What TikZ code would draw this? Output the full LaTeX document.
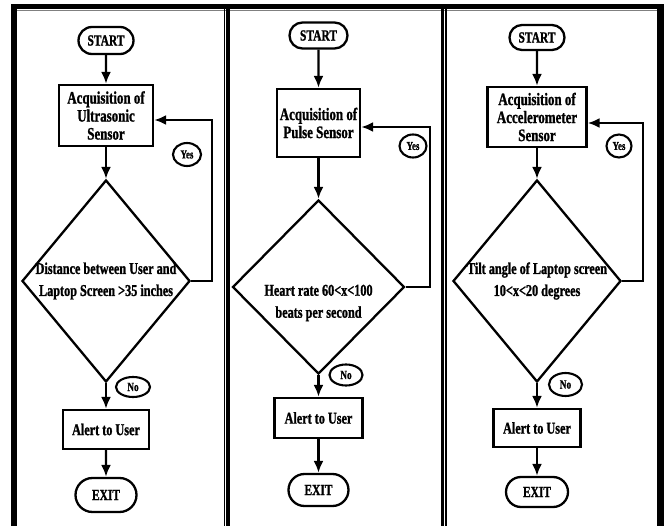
\documentclass[tikz,border=0pt]{standalone}
\usepackage{fontspec}
\usetikzlibrary{shapes.geometric,shapes.misc,arrows.meta}
\newfontfamily\ff{Liberation Serif}[FakeStretch=0.74,FakeBold=1.2]
\tikzset{
  x=1pt,y=-1pt,
  base/.style={draw=black,line width=2.3pt,inner sep=0pt,align=center,font=\ff\bfseries},
  term/.style={base,rounded rectangle},
  proc/.style={base,rectangle},
  dec/.style={base,diamond},
  oval/.style={base,ellipse,line width=2.1pt},
  dtext/.style={inner sep=0pt,align=center,font=\ff\bfseries\fontsize{16.5}{22}\selectfont},
  arr/.style={line width=2.3pt,-{Latex[length=12pt,width=10pt]}},
}
\begin{document}
\begin{tikzpicture}
\useasboundingbox (0,0) rectangle (664,526);
% frame
\fill[black] (11,4) rectangle (664,9.5);
\fill[black] (11,4) rectangle (17,526);
\fill[black] (657,4) rectangle (664,526);
\draw[gray,line width=1pt] (17,10.5) -- (657,10.5);
\fill[black] (223.5,9.5) rectangle (225,526);
\fill[black] (226.2,9.5) rectangle (230,526);
\fill[black] (441,9.5) rectangle (444,526);
\fill[black] (445,9.5) rectangle (446.7,526);

% ---------- panel 1
\node[term,minimum width=55,minimum height=27,font=\ff\bfseries\fontsize{15.5}{15}\selectfont] (start1) at (106,40.5) {START};
\node[proc,minimum width=94,minimum height=61,font=\ff\bfseries\fontsize{17.5}{18}\selectfont] (box1) at (106,115.5) {Acquisition of\\Ultrasonic\\Sensor};
\node[dec,minimum width=168,minimum height=202] (dia1) at (106,281) {};
\node[dtext] (t1) at (dia1.center) {Distance between User and\\Laptop Screen >35 inches};
\node[oval,minimum width=28,minimum height=23,font=\ff\bfseries\fontsize{12}{12}\selectfont] (yes1) at (187,154.5) {Yes};
\node[oval,minimum width=34,minimum height=20,font=\ff\bfseries\fontsize{12.5}{12}\selectfont] (no1) at (133,387) {No};
\node[proc,minimum width=86,minimum height=39,font=\ff\bfseries\fontsize{16.5}{16}\selectfont] (alert1) at (106,429.5) {Alert to User};
\node[term,minimum width=61,minimum height=34,font=\ff\bfseries\fontsize{15.5}{15}\selectfont] (exit1) at (106,495) {EXIT};
\coordinate (r1) at (212,120);
\draw[arr] (start1) -- (box1);
\draw[arr] (box1) -- (dia1);
\draw[arr] (dia1) -- (alert1);
\draw[arr] (alert1) -- (exit1);
\draw[arr] (dia1.east) -| (r1) -- (box1.east |- r1);

% ---------- panel 2
\node[term,minimum width=58,minimum height=26,font=\ff\bfseries\fontsize{15.5}{15}\selectfont] (start2) at (318.5,35.5) {START};
\node[proc,minimum width=83,minimum height=68,font=\ff\bfseries\fontsize{17.5}{18}\selectfont] (box2) at (318.5,123) {Acquisition of\\Pulse Sensor};
\node[dec,minimum width=172,minimum height=174] (dia2) at (318.5,287) {};
\node[dtext] (t2) at (318.5,303) {Heart rate 60<x<100\\beats per second};
\node[oval,minimum width=27,minimum height=23,font=\ff\bfseries\fontsize{12}{12}\selectfont] (yes2) at (413,146) {Yes};
\node[oval,minimum width=33,minimum height=21,font=\ff\bfseries\fontsize{12.5}{12}\selectfont] (no2) at (346,375) {No};
\node[proc,minimum width=88,minimum height=40,font=\ff\bfseries\fontsize{16.5}{16}\selectfont] (alert2) at (318.5,418) {Alert to User};
\node[term,minimum width=60,minimum height=32,font=\ff\bfseries\fontsize{15.5}{15}\selectfont] (exit2) at (318.5,490) {EXIT};
\coordinate (r2) at (430,127);
\draw[arr] (start2) -- (box2);
\draw[arr] (box2) -- (dia2);
\draw[arr] (dia2) -- (alert2);
\draw[arr] (alert2) -- (exit2);
\draw[arr] (dia2.east) -| (r2) -- (box2.east |- r2);

% ---------- panel 3
\node[term,minimum width=55,minimum height=25,font=\ff\bfseries\fontsize{15.5}{15}\selectfont] (start3) at (537,37.5) {START};
\node[proc,minimum width=99,minimum height=60,font=\ff\bfseries\fontsize{17.5}{18}\selectfont] (box3) at (537,117) {Acquisition of\\Accelerometer\\Sensor};
\node[dec,minimum width=168,minimum height=202] (dia3) at (537,281) {};
\node[dtext] (t3) at (dia3.center) {Tilt angle of Laptop screen\\10<x<20 degrees};
\node[oval,minimum width=25,minimum height=23,font=\ff\bfseries\fontsize{12}{12}\selectfont] (yes3) at (619,146) {Yes};
\node[oval,minimum width=33,minimum height=23,font=\ff\bfseries\fontsize{12.5}{12}\selectfont] (no3) at (565.5,384.5) {No};
\node[proc,minimum width=87,minimum height=38,font=\ff\bfseries\fontsize{16.5}{16}\selectfont] (alert3) at (537,428) {Alert to User};
\node[term,minimum width=62,minimum height=30,font=\ff\bfseries\fontsize{15.5}{15}\selectfont] (exit3) at (537,492) {EXIT};
\coordinate (r3) at (643,123);
\draw[arr] (start3) -- (box3);
\draw[arr] (box3) -- (dia3);
\draw[arr] (dia3) -- (alert3);
\draw[arr] (alert3) -- (exit3);
\draw[arr] (dia3.east) -| (r3) -- (box3.east |- r3);
\end{tikzpicture}
\end{document}
